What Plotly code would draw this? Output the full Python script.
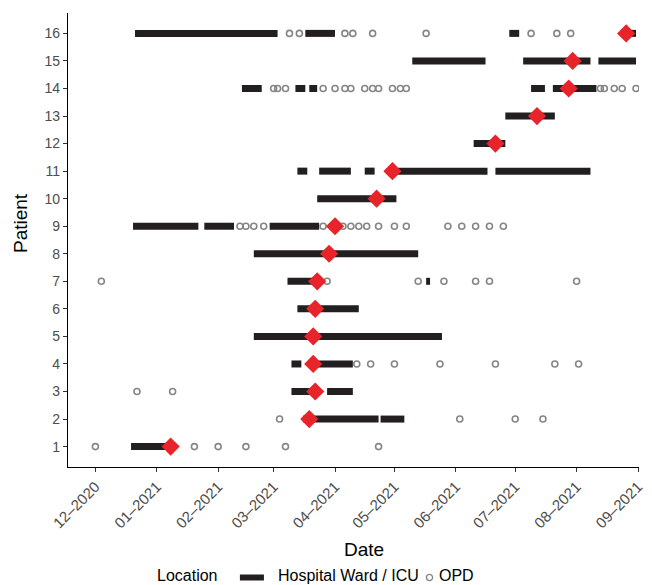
import plotly.graph_objects as go

# ---------------- data ----------------
ward_patient = [1, 2, 2, 3, 3, 4, 4, 5, 6, 7, 7, 8, 9, 9, 9, 10,
                11, 11, 11, 11, 11, 12, 13, 14, 14, 14, 14, 14,
                15, 15, 15, 16, 16, 16, 16]
ward_start = ["2020-12-19", "2021-03-16", "2021-04-24", "2021-03-10", "2021-03-28",
              "2021-03-10", "2021-03-19", "2021-02-19", "2021-03-13", "2021-03-08",
              "2021-05-17", "2021-02-19", "2020-12-20", "2021-01-25", "2021-02-27",
              "2021-03-23", "2021-03-13", "2021-03-24", "2021-04-16", "2021-04-28",
              "2021-06-21", "2021-06-10", "2021-06-26", "2021-02-13", "2021-03-12",
              "2021-03-19", "2021-07-09", "2021-07-20", "2021-05-10", "2021-07-05",
              "2021-08-12", "2020-12-21", "2021-03-17", "2021-06-28", "2021-08-24"]
ward_end = ["2021-01-08", "2021-04-23", "2021-05-06", "2021-03-22", "2021-04-10",
            "2021-03-15", "2021-04-10", "2021-05-25", "2021-04-13", "2021-03-24",
            "2021-05-19", "2021-05-13", "2021-01-22", "2021-02-09", "2021-03-24",
            "2021-05-02", "2021-03-18", "2021-04-09", "2021-04-21", "2021-06-17",
            "2021-08-08", "2021-06-26", "2021-07-21", "2021-02-23", "2021-03-17",
            "2021-03-23", "2021-07-16", "2021-08-11", "2021-06-16", "2021-08-08",
            "2021-08-31", "2021-03-03", "2021-04-01", "2021-07-03", "2021-08-31"]

opd_patient = ([1] * 6 + [2] * 4 + [3] * 2 + [4] * 7 + [7] * 7 + [9] * 17
               + [14] * 18 + [16] * 9)
opd_date = [
    # patient 1
    "2020-12-01", "2021-01-20", "2021-02-01", "2021-02-15", "2021-03-07", "2021-04-23",
    # patient 2
    "2021-03-04", "2021-06-03", "2021-07-01", "2021-07-15",
    # patient 3
    "2020-12-22", "2021-01-09",
    # patient 4
    "2021-04-12", "2021-04-19", "2021-05-01", "2021-05-24", "2021-06-21", "2021-07-21",
    "2021-08-02",
    # patient 7
    "2020-12-04", "2021-03-28", "2021-05-13", "2021-05-26", "2021-06-11", "2021-06-18",
    "2021-08-01",
    # patient 9
    "2021-02-12", "2021-02-15", "2021-02-19", "2021-02-24", "2021-03-26", "2021-04-05",
    "2021-04-09", "2021-04-13", "2021-04-17", "2021-04-23", "2021-05-01", "2021-05-07",
    "2021-05-28", "2021-06-04", "2021-06-11", "2021-06-18", "2021-06-25",
    # patient 14
    "2021-03-01", "2021-03-03", "2021-03-07", "2021-03-26", "2021-04-01", "2021-04-06",
    "2021-04-09", "2021-04-16", "2021-04-20", "2021-04-23", "2021-04-30", "2021-05-04",
    "2021-05-07", "2021-08-13", "2021-08-15", "2021-08-20", "2021-08-24", "2021-08-31",
    # patient 16
    "2021-03-09", "2021-03-14", "2021-04-06", "2021-04-10", "2021-04-20", "2021-05-17",
    "2021-07-09", "2021-07-22", "2021-07-29",
]

event_patient = list(range(1, 17))
event_date = ["2021-01-08", "2021-03-19", "2021-03-22", "2021-03-21", "2021-03-21",
              "2021-03-22", "2021-03-23", "2021-03-29", "2021-04-01", "2021-04-22",
              "2021-04-30", "2021-06-21", "2021-07-12", "2021-07-28", "2021-07-30",
              "2021-08-26"]

month_ticks = ["2020-12-01", "2021-01-01", "2021-02-01", "2021-03-01", "2021-04-01",
               "2021-05-01", "2021-06-01", "2021-07-01", "2021-08-01", "2021-09-01"]
month_labels = ["12–2020", "01–2021", "02–2021", "03–2021", "04–2021",
                "05–2021", "06–2021", "07–2021", "08–2021", "09–2021"]
patient_ticks = list(range(1, 17))

legend_title = "Location"
legend_ward = "Hospital Ward / ICU"
legend_opd = "OPD"

# ---------------- layout constants (screen pixels) ----------------
W, H = 652, 585
L, T = 68, 13
R = W - 645
B = H - 467
PW, PH = W - L - R, H - T - B


def fx(px):
    """screen x pixel -> paper fraction"""
    return (px - L) / PW


def fy(py):
    """screen y pixel -> paper fraction"""
    return (H - B - py) / PH


FONT = "Liberation Sans, Arial, Helvetica, sans-serif"
BAR_COLOR = "#231f20"
OPD_COLOR = "#858585"
EVENT_COLOR = "#e8232a"

# ---------------- traces ----------------
bar_x, bar_y = [], []
for p, s, e in zip(ward_patient, ward_start, ward_end):
    bar_x += [s, e, None]
    bar_y += [p, p, None]

fig = go.Figure()
fig.add_trace(go.Scatter(
    x=bar_x, y=bar_y, mode="lines", name=legend_ward,
    line=dict(color=BAR_COLOR, width=7), showlegend=False, hoverinfo="skip"))
fig.add_trace(go.Scatter(
    x=opd_date, y=opd_patient, mode="markers", name=legend_opd,
    marker=dict(symbol="circle-open", size=6, color=OPD_COLOR,
                line=dict(width=1.6, color=OPD_COLOR)),
    showlegend=False))
fig.add_trace(go.Scatter(
    x=event_date, y=event_patient, mode="markers", name="Event",
    marker=dict(symbol="diamond", size=14, color=EVENT_COLOR, line=dict(width=0)),
    showlegend=False))

fig.update_layout(
    width=W, height=H,
    margin=dict(l=L, r=R, t=T, b=B, pad=0),
    paper_bgcolor="white", plot_bgcolor="white",
    font=dict(family=FONT, size=14, color="#4d4d4d"),
    showlegend=False,
)
fig.update_xaxes(
    type="date", range=["2020-11-17 04:00", "2021-09-01 12:00"],
    tickvals=month_ticks, ticktext=month_labels, tickangle=-45,
    tickfont=dict(family=FONT, size=15, color="#4d4d4d"),
    showline=True, linecolor="black", linewidth=1.3,
    ticks="outside", ticklen=4, tickwidth=1.2, tickcolor="#333333",
    showgrid=False, zeroline=False,
)
fig.update_yaxes(
    range=[0.26, 16.74], tickvals=patient_ticks,
    tickfont=dict(family=FONT, size=14, color="#4d4d4d"),
    showline=True, linecolor="black", linewidth=1.3,
    ticks="outside", ticklen=4, tickwidth=1.2, tickcolor="#333333",
    showgrid=False, zeroline=False,
)

LEG_Y = 575
annotations = [
    dict(text="Date", x=fx(367.5), y=fy(549.5), xanchor="center", yanchor="middle",
         font=dict(size=19, color="black", family=FONT)),
    dict(text="Patient", x=fx(20), y=fy(222.5), xanchor="center", yanchor="middle",
         textangle=-90, font=dict(size=19, color="black", family=FONT)),
    dict(text=legend_title, x=fx(156.7), y=fy(LEG_Y), xanchor="left", yanchor="middle",
         font=dict(size=16, color="black", family=FONT)),
    dict(text=legend_ward, x=fx(279.3), y=fy(LEG_Y), xanchor="left", yanchor="middle",
         font=dict(size=16, color="black", family=FONT)),
    dict(text=legend_opd, x=fx(441.7), y=fy(LEG_Y), xanchor="left", yanchor="middle",
         font=dict(size=16, color="black", family=FONT)),
]
for a in annotations:
    a.update(xref="paper", yref="paper", showarrow=False, borderpad=0)
fig.update_layout(annotations=annotations)

fig.update_layout(shapes=[
    dict(type="rect", xref="paper", yref="paper",
         x0=fx(241.7), x1=fx(266), y0=fy(580.5), y1=fy(574.5),
         fillcolor=BAR_COLOR, line=dict(width=0)),
    dict(type="circle", xref="paper", yref="paper",
         x0=fx(430.2), x1=fx(436.4), y0=fy(580.6), y1=fy(574.4),
         line=dict(color=OPD_COLOR, width=1.3)),
])

# remove the default 8px page margin so the 652x585 figure fills the window exactly
fig.write_html("out.html",
               config={"displayModeBar": False},
               post_script="document.body.style.margin='0';"
                           "document.body.style.overflow='hidden';")
